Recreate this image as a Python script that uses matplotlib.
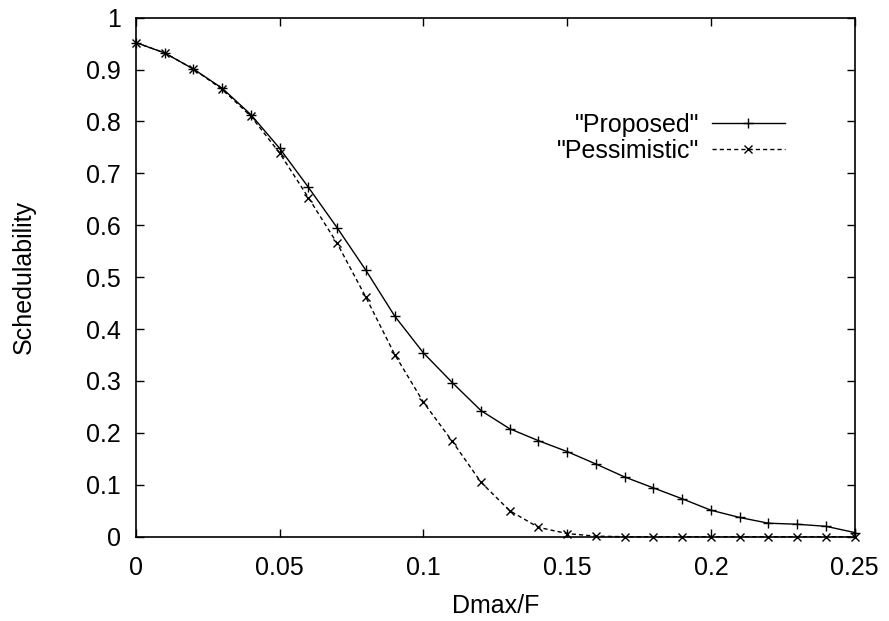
import matplotlib
matplotlib.use("Agg")
import matplotlib.pyplot as plt

plt.rcParams['font.family'] = ['Liberation Sans', 'DejaVu Sans']

# Dmax/F values
dmax = [0.00, 0.01, 0.02, 0.03, 0.04, 0.05, 0.06, 0.07, 0.08, 0.09,
        0.10, 0.11, 0.12, 0.13, 0.14, 0.15, 0.16, 0.17, 0.18, 0.19,
        0.20, 0.21, 0.22, 0.23, 0.24, 0.25]

# schedulability
proposed = [0.952, 0.932, 0.901, 0.864, 0.813, 0.748, 0.673, 0.595, 0.513, 0.425,
            0.354, 0.297, 0.243, 0.208, 0.185, 0.164, 0.140, 0.115, 0.094, 0.073,
            0.051, 0.037, 0.026, 0.024, 0.020, 0.008]
pessimistic = [0.952, 0.932, 0.901, 0.862, 0.810, 0.739, 0.653, 0.565, 0.461, 0.351,
               0.259, 0.184, 0.105, 0.050, 0.018, 0.006, 0.001, 0.0, 0.0, 0.0,
               0.0, 0.0, 0.0, 0.0, 0.0, 0.0]

xticks = [0, 0.05, 0.1, 0.15, 0.2, 0.25]
xticklabels = ["0", "0.05", "0.1", "0.15", "0.2", "0.25"]
yticks = [0, 0.1, 0.2, 0.3, 0.4, 0.5, 0.6, 0.7, 0.8, 0.9, 1]
yticklabels = ["0", "0.1", "0.2", "0.3", "0.4", "0.5", "0.6", "0.7", "0.8", "0.9", "1"]

fs = 18

fig = plt.figure(figsize=(8.89, 6.21), dpi=100)
ax = fig.add_axes([136 / 889, 1 - 536.7 / 621, (854.7 - 136) / 889, (536.7 - 17.7) / 621])

ax.plot(dmax, proposed, color="black", linewidth=1.0, marker="+",
        markersize=7, markeredgewidth=1.0, label='"Proposed"', clip_on=False)
ax.plot(dmax, pessimistic, color="black", linewidth=1.0, linestyle=(0, (3, 2.2)),
        marker="x", markersize=5.5, markeredgewidth=1.0, label='"Pessimistic"', clip_on=False)

ax.set_xlim(0, 0.25)
ax.set_ylim(0, 1)
ax.set_xticks(xticks)
ax.set_xticklabels(xticklabels)
ax.set_yticks(yticks)
ax.set_yticklabels(yticklabels)
ax.tick_params(direction="in", length=6, width=1, top=True, right=True,
               labelsize=fs)
ax.tick_params(axis="x", pad=14)
ax.tick_params(axis="y", pad=11)
for s in ax.spines.values():
    s.set_linewidth(1.2)

ax.set_xlabel("Dmax/F", fontsize=fs, labelpad=10)
ax.set_ylabel("Schedulability", fontsize=fs, labelpad=36)

ax.legend(loc="center right", bbox_to_anchor=(0.9026, 0.768), frameon=False,
          markerfirst=False, fontsize=fs, handlelength=2.9, labelspacing=0.08,
          handletextpad=0.5, borderpad=0, borderaxespad=0)

fig.savefig("out.png", dpi=100)
